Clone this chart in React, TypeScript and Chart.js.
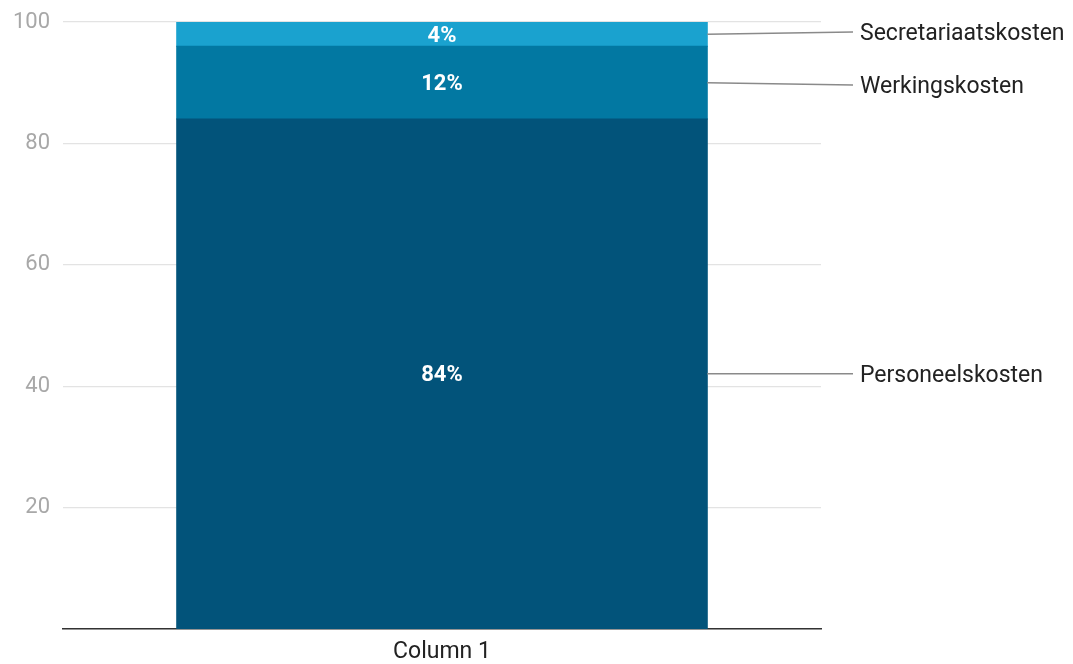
import React, { useEffect, useRef } from "react";
import { Chart, registerables } from "chart.js";

Chart.register(...registerables);

const categories = ["Column 1"];
const seriesNames = ["Personeelskosten", "Werkingskosten", "Secretariaatskosten"];
const personeelskosten = [84];
const werkingskosten = [12];
const secretariaatskosten = [4];
const seriesColors = ["#02537a", "#0278a2", "#1aa2cf"];
const yTicks = [0, 20, 40, 60, 80, 100];

const FONT = "Roboto, 'Noto Sans', sans-serif";

const labelPlugin = {
  id: "segmentLabels",
  afterDatasetsDraw(chart: any) {
    const ctx = chart.ctx;
    const area = chart.chartArea;
    const items: { mid: number; right: number; name: string; y: number; value: number; x: number }[] = [];
    chart.data.datasets.forEach((ds: any, i: number) => {
      const meta = chart.getDatasetMeta(i);
      const el = meta.data[0];
      if (!el) return;
      const top = Math.min(el.y, el.base);
      const bot = Math.max(el.y, el.base);
      const mid = (top + bot) / 2;
      items.push({ mid, right: el.x + el.width / 2, name: ds.label, y: mid, value: ds.data[0], x: el.x });
    });
    ctx.save();
    ctx.fillStyle = "#ffffff";
    ctx.font = `bold 22px ${FONT}`;
    ctx.textAlign = "center";
    ctx.textBaseline = "middle";
    items.forEach((it) => ctx.fillText(`${it.value}%`, it.x, it.mid + 2));
    ctx.restore();

    const sorted = [...items].sort((a, b) => a.mid - b.mid);
    const gap = 53;
    for (let iter = 0; iter < 20; iter++) {
      for (let k = 0; k < sorted.length - 1; k++) {
        const a = sorted[k], b = sorted[k + 1];
        const d = b.y - a.y;
        if (d < gap) {
          const push = (gap - d) / 2;
          a.y -= push;
          b.y += push;
        }
      }
    }
    ctx.save();
    ctx.strokeStyle = "#8a8a8a";
    ctx.lineWidth = 1.5;
    ctx.fillStyle = "#222222";
    ctx.font = `23px ${FONT}`;
    ctx.textAlign = "left";
    ctx.textBaseline = "middle";
    const lineEnd = area.right + 32;
    sorted.forEach((it) => {
      ctx.beginPath();
      ctx.moveTo(it.right, it.mid);
      ctx.lineTo(lineEnd, it.y);
      ctx.stroke();
      ctx.fillText(it.name, lineEnd + 7, it.y + 2);
    });
    ctx.restore();
  },
};

export default function App() {
  const ref = useRef<HTMLCanvasElement>(null);
  useEffect(() => {
    if (!ref.current) return;
    const chart = new Chart(ref.current, {
      type: "bar",
      data: {
        labels: categories,
        datasets: [
          { label: seriesNames[0], data: personeelskosten, backgroundColor: seriesColors[0], inflateAmount: 0.5 },
          { label: seriesNames[1], data: werkingskosten, backgroundColor: seriesColors[1], inflateAmount: 0.5 },
          { label: seriesNames[2], data: secretariaatskosten, backgroundColor: seriesColors[2], inflateAmount: 0.5 },
        ],
      },
      options: {
        animation: false,
        responsive: true,
        maintainAspectRatio: false,
        layout: { padding: { top: 22, right: 252, left: 0, bottom: 0 } },
        plugins: { legend: { display: false }, tooltip: { enabled: false } },
        datasets: { bar: { barPercentage: 0.7, categoryPercentage: 1 } },
        scales: {
          x: {
            stacked: true,
            grid: { display: false, drawTicks: false },
            border: { display: true, color: "#333333", width: 1.5 },
            ticks: { color: "#222222", font: { family: FONT, size: 23 }, padding: 9 },
            afterFit(scale: any) {
              scale.height = 35;
              scale.paddingLeft = 0;
              scale.paddingRight = 0;
            },
          },
          y: {
            stacked: true,
            min: 0,
            max: 100,
            afterBuildTicks(scale: any) {
              scale.ticks = yTicks.map((v) => ({ value: v }));
            },
            afterFit(scale: any) {
              scale.width = 63;
              scale.paddingTop = 0;
              scale.paddingBottom = 0;
            },
            grid: { color: "#e3e3e3", lineWidth: 1.2, drawTicks: false },
            border: { display: false },
            ticks: {
              color: "#a8a8a8",
              font: { family: FONT, size: 22 },
              padding: 13,
              callback: (v: any) => (v === 0 ? "" : String(v)),
            },
          },
        },
      },
      plugins: [labelPlugin],
    });
    return () => chart.destroy();
  }, []);
  return (
    <div style={{ position: "fixed", left: 0, top: 0, width: 1073, height: 664, background: "#fff" }}>
      <canvas ref={ref} />
    </div>
  );
}
